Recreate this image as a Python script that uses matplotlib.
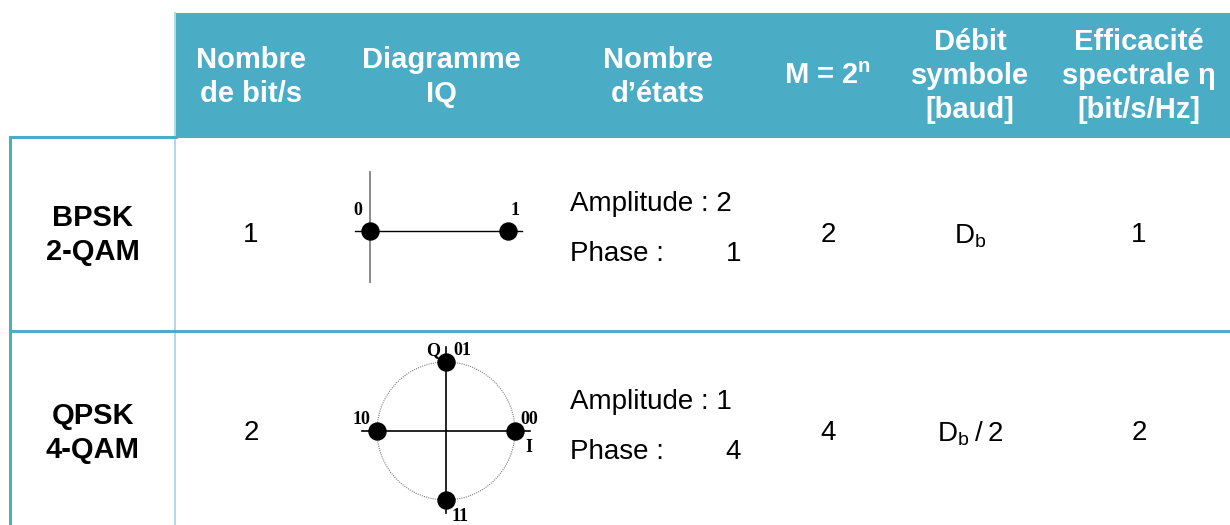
import matplotlib.pyplot as plt
from matplotlib.patches import Rectangle, Circle

plt.rcParams['font.family'] = ['Liberation Sans', 'DejaVu Sans']
plt.rcParams['mathtext.fontset'] = 'custom'
plt.rcParams['mathtext.rm'] = 'Liberation Sans'
plt.rcParams['mathtext.bf'] = 'Liberation Sans:bold'

# table content
HEADERS = [
    ['Nombre', 'de bit/s'],
    ['Diagramme', 'IQ'],
    ['Nombre', 'd\u2019états'],
    [r'M = 2$^{\mathbf{n}}$'],
    ['Débit', 'symbole', '[baud]'],
    ['Efficacité', 'spectrale η', '[bit/s/Hz]'],
]
MODULATIONS = [['BPSK', '2-QAM'], ['QPSK', '4-QAM']]
BITS = ['1', '2']
AMPLITUDES = ['2', '1']
PHASES = ['1', '4']
M_VALUES = ['2', '4']
SYMBOL_RATES = [r'D$_{\mathrm{b}}$', 'D$_{\\mathrm{b}}$\u2009/\u20092']
EFFICIENCY = ['1', '2']

# constellations
BPSK_I = [0, 1]
BPSK_Q = [0, 0]
BPSK_LABELS = ['0', '1']
QPSK_I = [1, 0, -1, 0]
QPSK_Q = [0, 1, 0, -1]
QPSK_LABELS = ['00', '01', '10', '11']

W, H = 1230, 525
TEAL = '#4BACC6'
LIGHT = '#A8D6E3'
COL_X = [93, 251, 441, 658, 828, 970, 1139]
ROW_Y = [235, 433]
HEAD_TOP, HEAD_BOT, HEAD_LEFT = 13, 138, 176
ROW_SEP = 331
PITCH = 34

fig = plt.figure(figsize=(W / 100, H / 100), dpi=100)
ax = fig.add_axes([0, 0, 1, 1])
ax.set_xlim(0, W)
ax.set_ylim(H, 0)
ax.axis('off')

# header band
ax.add_patch(Rectangle((HEAD_LEFT, HEAD_TOP), W - HEAD_LEFT, HEAD_BOT - HEAD_TOP,
                       color=TEAL, lw=0))
hy = (HEAD_TOP + HEAD_BOT) / 2 + 1
for x, lines in zip(COL_X[1:], HEADERS):
    n = len(lines)
    for k, s in enumerate(lines):
        y = hy + (k - (n - 1) / 2) * PITCH
        ax.text(x, y, s, color='white', fontsize=21, fontweight='bold',
                ha='center', va='center')

# borders
ax.plot([10, 10], [HEAD_BOT - 1, H], color=TEAL, lw=2.2)
ax.plot([10, HEAD_LEFT], [HEAD_BOT - 1, HEAD_BOT - 1], color=TEAL, lw=2.2)
ax.plot([HEAD_LEFT - 1, HEAD_LEFT - 1], [HEAD_TOP, H], color=LIGHT, lw=1.3, zorder=0)
ax.plot([10, W], [ROW_SEP, ROW_SEP], color=TEAL, lw=2.2)

# body
for r, y in enumerate(ROW_Y):
    for k, s in enumerate(MODULATIONS[r]):
        ax.text(COL_X[0], y + (k - 0.5) * 33, s, fontsize=21, fontweight='bold',
                ha='center', va='center')
    ax.text(COL_X[1], y, BITS[r], fontsize=20, ha='center', va='center')
    ax.text(570, y - 24, 'Amplitude : ' + AMPLITUDES[r], fontsize=20,
            ha='left', va='baseline')
    ax.text(570, y + 26, 'Phase :', fontsize=20, ha='left', va='baseline')
    ax.text(741, y + 26, PHASES[r], fontsize=20, ha='right', va='baseline')
    ax.text(COL_X[4], y, M_VALUES[r], fontsize=20, ha='center', va='center')
    ax.text(COL_X[5], y + 1, SYMBOL_RATES[r], fontsize=20, ha='center', va='center')
    ax.text(COL_X[6], y, EFFICIENCY[r], fontsize=20, ha='center', va='center')


def pix_axes(x0, y0, x1, y1):
    return fig.add_axes([x0 / W, 1 - y1 / H, (x1 - x0) / W, (y1 - y0) / H])


lab = dict(fontsize=13, fontweight='bold', family='Liberation Serif',
           ha='center', va='center', textcoords='offset points')

# BPSK diagram: origin at (370, 231), 138 px per unit
s1 = 138
b = pix_axes(340, 160, 545, 295)
b.set_xlim(-30 / s1, 175 / s1)
b.set_ylim(-64 / s1, 71 / s1)
b.axis('off')
b.plot([-15 / s1, 152 / s1], [0, 0], color='black', lw=1)
b.plot([0, 0], [-51 / s1, 59 / s1], color='gray', lw=1.3)
b.scatter(BPSK_I, BPSK_Q, s=150, color='black', zorder=3)
for i, q, t, dx in zip(BPSK_I, BPSK_Q, BPSK_LABELS, [-9, 5]):
    b.annotate(t, (i, q), xytext=(dx, 15), **lab)

# QPSK diagram: centre at (446, 431), radius 69 px
s2 = 69
c = pix_axes(340, 335, 550, 525)
c.set_xlim(-106 / s2, 104 / s2)
c.set_ylim(-94 / s2, 96 / s2)
c.axis('off')
c.add_patch(Circle((0, 0), 1, fill=False, ls=(0, (1, 1)), lw=0.8, color='gray'))
c.plot([-84 / s2, 84 / s2], [0, 0], color='black', lw=1.2)
c.plot([0, 0], [-82 / s2, 84 / s2], color='black', lw=1.2)
c.scatter(QPSK_I, QPSK_Q, s=150, color='black', zorder=3)
offs = [(10, 8), (12, 8), (-11, 8), (10, -12)]
for i, q, t, o in zip(QPSK_I, QPSK_Q, QPSK_LABELS, offs):
    c.annotate(t, (i, q), xytext=o, **lab)
c.annotate('Q', (0, 1), xytext=(-9, 8), **lab)
c.annotate('I', (1, 0), xytext=(10, -12), **lab)

fig.savefig('out.png', dpi=100)
